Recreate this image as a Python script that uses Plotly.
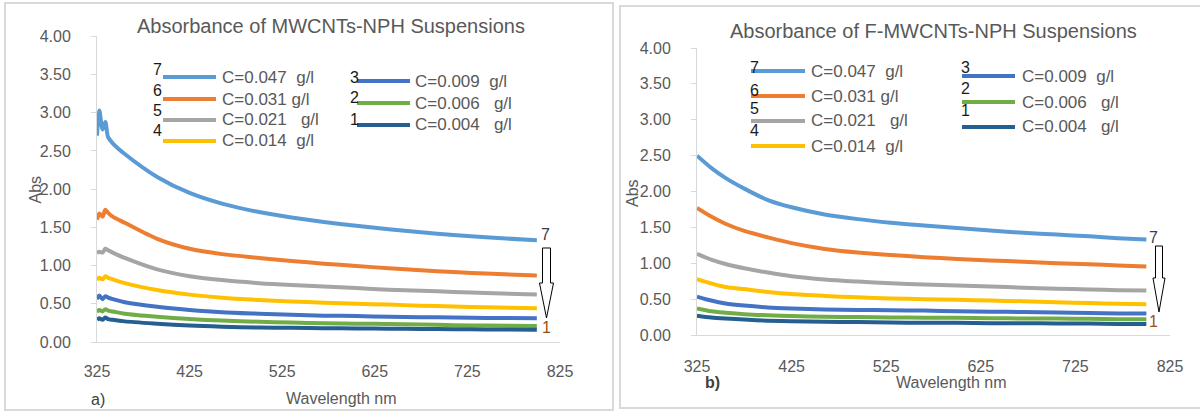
import plotly.graph_objects as go

W, H = 1200, 412
FONT = "Liberation Sans"
TXT = "#595959"
AXC = "#D9D9D9"

# ---------------- data ----------------
# panel a) MWCNTs-NPH
wl_a = [325, 327.5, 331, 334, 337, 342, 355, 390, 425, 460, 500, 535, 570, 605, 640, 675, 710, 745, 800]
a7 = [2.70, 3.03, 2.78, 2.88, 2.68, 2.60, 2.46, 2.16, 1.95, 1.81, 1.70, 1.63, 1.57, 1.52, 1.475, 1.435, 1.40, 1.37, 1.33]
a6 = [1.60, 1.68, 1.64, 1.73, 1.69, 1.64, 1.56, 1.35, 1.22, 1.15, 1.10, 1.06, 1.025, 0.995, 0.965, 0.94, 0.915, 0.895, 0.87]
a5 = [1.16, 1.18, 1.17, 1.22, 1.20, 1.17, 1.10, 0.95, 0.86, 0.81, 0.77, 0.745, 0.725, 0.705, 0.685, 0.67, 0.655, 0.64, 0.62]
a4 = [0.81, 0.84, 0.82, 0.86, 0.84, 0.82, 0.77, 0.68, 0.62, 0.58, 0.55, 0.53, 0.515, 0.50, 0.49, 0.475, 0.465, 0.455, 0.44]
a3 = [0.56, 0.61, 0.56, 0.60, 0.58, 0.56, 0.52, 0.46, 0.42, 0.39, 0.37, 0.355, 0.345, 0.34, 0.33, 0.325, 0.32, 0.315, 0.31]
a2 = [0.39, 0.42, 0.40, 0.43, 0.41, 0.40, 0.37, 0.33, 0.30, 0.28, 0.265, 0.255, 0.245, 0.24, 0.235, 0.23, 0.22, 0.215, 0.21]
a1 = [0.29, 0.31, 0.29, 0.32, 0.30, 0.29, 0.27, 0.24, 0.215, 0.20, 0.19, 0.185, 0.18, 0.178, 0.175, 0.17, 0.168, 0.165, 0.16]

# panel b) F-MWCNTs-NPH
wl_b = [325, 340, 355, 375, 400, 425, 460, 495, 530, 565, 600, 635, 670, 705, 740, 770, 800]
b7 = [2.50, 2.33, 2.19, 2.04, 1.88, 1.78, 1.68, 1.615, 1.565, 1.525, 1.49, 1.455, 1.425, 1.40, 1.375, 1.35, 1.33]
b6 = [1.77, 1.65, 1.55, 1.45, 1.36, 1.28, 1.20, 1.15, 1.115, 1.085, 1.06, 1.04, 1.02, 1.00, 0.985, 0.97, 0.955]
b5 = [1.13, 1.05, 0.99, 0.93, 0.87, 0.82, 0.775, 0.745, 0.72, 0.705, 0.69, 0.675, 0.66, 0.645, 0.635, 0.625, 0.62]
b4 = [0.78, 0.72, 0.67, 0.64, 0.60, 0.57, 0.545, 0.525, 0.51, 0.50, 0.49, 0.48, 0.47, 0.455, 0.445, 0.435, 0.43]
b3 = [0.535, 0.48, 0.44, 0.41, 0.385, 0.37, 0.355, 0.35, 0.345, 0.34, 0.33, 0.325, 0.32, 0.315, 0.305, 0.30, 0.30]
b2 = [0.37, 0.33, 0.31, 0.29, 0.275, 0.265, 0.255, 0.25, 0.245, 0.24, 0.24, 0.235, 0.23, 0.23, 0.225, 0.22, 0.22]
b1 = [0.27, 0.245, 0.23, 0.215, 0.20, 0.19, 0.185, 0.18, 0.175, 0.17, 0.17, 0.165, 0.165, 0.16, 0.16, 0.155, 0.155]

curve_ids = ["7", "6", "5", "4", "3", "2", "1"]
conc_labels = ["C=0.047\u00a0 g/l", "C=0.031 g/l", "C=0.021\u00a0\u00a0 g/l", "C=0.014\u00a0 g/l",
               "C=0.009\u00a0 g/l", "C=0.006\u00a0\u00a0 g/l", "C=0.004\u00a0\u00a0 g/l"]
colors = ["#5B9BD5", "#ED7D31", "#A5A5A5", "#FFC000", "#4472C4", "#70AD47", "#255E91"]

series_a = [a7, a6, a5, a4, a3, a2, a1]
series_b = [b7, b6, b5, b4, b3, b2, b1]

titles = ["Absorbance of MWCNTs-NPH Suspensions", "Absorbance of F-MWCNTs-NPH Suspensions"]
x_title = "Wavelength nm"
y_title = "Abs"
panel_tags = ["a)", "b)"]
x_ticks = [325, 425, 525, 625, 725, 825]

# ---------------- helpers ----------------
def px(x):
    return x / W

def py(y):
    return 1 - y / H

fig = go.Figure()

for ys, c, name in zip(series_a, colors, conc_labels):
    fig.add_trace(go.Scatter(x=wl_a, y=ys, mode="lines", name=name,
                             line=dict(color=c, width=4, shape="spline", smoothing=0.8),
                             xaxis="x", yaxis="y", showlegend=False, hoverinfo="skip"))
for ys, c, name in zip(series_b, colors, conc_labels):
    fig.add_trace(go.Scatter(x=wl_b, y=ys, mode="lines", name=name,
                             line=dict(color=c, width=4, shape="spline", smoothing=0.8),
                             xaxis="x2", yaxis="y2", showlegend=False, hoverinfo="skip"))

tickfont = dict(family=FONT, size=16, color=TXT)

def xax(domain, anchor, standoff):
    return dict(domain=domain, anchor=anchor, range=[325, 825], tickvals=x_ticks,
                showline=True, linecolor=AXC, linewidth=1, showgrid=False, zeroline=False,
                ticks="", tickfont=tickfont, ticklabelstandoff=standoff, fixedrange=True,
                automargin=False)

def yax(domain, anchor):
    return dict(domain=domain, anchor=anchor, range=[0, 4], dtick=0.5, tickformat=".2f",
                showline=True, linecolor=AXC, linewidth=1, showgrid=False, zeroline=False,
                ticks="outside", ticklen=5, tickcolor=AXC, tickfont=tickfont,
                ticklabelstandoff=17, fixedrange=True, automargin=False)

shapes = []
annotations = []

# panel borders
shapes.append(dict(type="rect", xref="paper", yref="paper", x0=px(5), x1=px(613), y0=py(410), y1=py(3),
                   line=dict(color=AXC, width=2), fillcolor="rgba(0,0,0,0)", layer="below"))
shapes.append(dict(type="rect", xref="paper", yref="paper", x0=px(620), x1=px(1210), y0=py(408), y1=py(6),
                   line=dict(color=AXC, width=2), fillcolor="rgba(0,0,0,0)", layer="below"))

def text(x, y, s, size=16, color=TXT, xanchor="center", bold=False):
    if bold:
        s = "<b>" + s + "</b>"
    annotations.append(dict(x=px(x), y=py(y), xref="paper", yref="paper", text=s, showarrow=False,
                            xanchor=xanchor, yanchor="middle",
                            font=dict(family=FONT, size=size, color=color)))

# titles and axis titles
text(331, 26, titles[0], size=20)
text(933, 31, titles[1], size=20)
text(342, 398, x_title, size=16)
text(951, 382, x_title, size=16)
annotations.append(dict(x=px(24), y=py(190), xref="paper", yref="paper", text=y_title, showarrow=False,
                        textangle=-90, font=dict(family=FONT, size=16, color=TXT)))
annotations.append(dict(x=px(632), y=py(193), xref="paper", yref="paper", text=y_title, showarrow=False,
                        textangle=-90, font=dict(family=FONT, size=16, color=TXT)))
text(97.5, 399, panel_tags[0], size=16, color="#404040")
text(712.5, 382, panel_tags[1], size=16, color="#404040", bold=True)

# manual legends: (curve index, swatch x0, x1, swatch y, number x, number y, text x)
legend_a = [
    (0, 163, 216, 77, 157, 69, 220), (1, 163, 216, 99, 157, 90, 220),
    (2, 163, 216, 120, 157, 110, 220), (3, 163, 216, 141, 157, 130, 220),
    (4, 357, 410, 81, 354, 77, 413), (5, 357, 410, 103, 354, 97, 413),
    (6, 357, 410, 125, 354, 119, 413),
]
legend_b = [
    (0, 751, 805, 71, 754, 67, 809), (1, 751, 805, 96, 754, 90, 809),
    (2, 751, 805, 121, 754, 108, 809), (3, 751, 805, 146, 754, 130, 809),
    (4, 962, 1015, 76, 965, 67, 1020), (5, 962, 1015, 102, 965, 88, 1020),
    (6, 962, 1015, 127, 965, 110, 1020),
]
for leg in (legend_a, legend_b):
    for i, x0, x1, ys, nx, ny, tx in leg:
        shapes.append(dict(type="line", xref="paper", yref="paper", x0=px(x0), x1=px(x1),
                           y0=py(ys), y1=py(ys), line=dict(color=colors[i], width=4)))
        text(nx, ny, curve_ids[i], size=16, color="#1a1a1a")
        text(tx, ys, conc_labels[i], size=17, xanchor="left")

# end labels anchored at the last data point of curves 7 and 1
annotations += [
    dict(x=wl_a[-1], y=a7[-1], xref="x", yref="y", text=curve_ids[0], showarrow=False, xshift=9, yshift=6,
         font=dict(family=FONT, size=16, color="#3A3A4A")),
    dict(x=wl_a[-1], y=a1[-1], xref="x", yref="y", text=curve_ids[6], showarrow=False, xshift=10, yshift=2,
         font=dict(family=FONT, size=16, color="#9A4F16")),
    dict(x=wl_b[-1], y=b7[-1], xref="x2", yref="y2", text=curve_ids[0], showarrow=False, xshift=7, yshift=2,
         font=dict(family=FONT, size=16, color="#2F3F5F")),
    dict(x=wl_b[-1], y=b1[-1], xref="x2", yref="y2", text=curve_ids[6], showarrow=False, xshift=7, yshift=2,
         font=dict(family=FONT, size=16, color="#9A4F16")),
]

def arrow(cx, top, head, tip, sw, hw):
    pts = [(cx - sw, top), (cx + sw, top), (cx + sw, head), (cx + hw, head), (cx, tip),
           (cx - hw, head), (cx - sw, head)]
    path = "M " + " L ".join(f"{px(x):.5f},{py(y):.5f}" for x, y in pts) + " Z"
    return dict(type="path", xref="paper", yref="paper", path=path,
                line=dict(color="#000000", width=1), fillcolor="white")

shapes.append(arrow(546.5, 248, 283, 318, 4, 7))
shapes.append(arrow(1159, 246, 278, 312, 3.5, 6))

fig.update_layout(
    width=W, height=H, margin=dict(l=0, r=0, t=0, b=0),
    paper_bgcolor="white", plot_bgcolor="white",
    xaxis=xax([px(97), px(560)], "y", 15),
    yaxis=yax([py(342), py(36.3)], "x"),
    xaxis2=xax([px(697), px(1170)], "y2", 17),
    yaxis2=yax([py(335), py(48)], "x2"),
    shapes=shapes, annotations=annotations,
    showlegend=False,
)

fig.write_html("out.html", config={"displayModeBar": False},
               post_script="document.body.style.margin='0';document.body.style.overflow='hidden';")
